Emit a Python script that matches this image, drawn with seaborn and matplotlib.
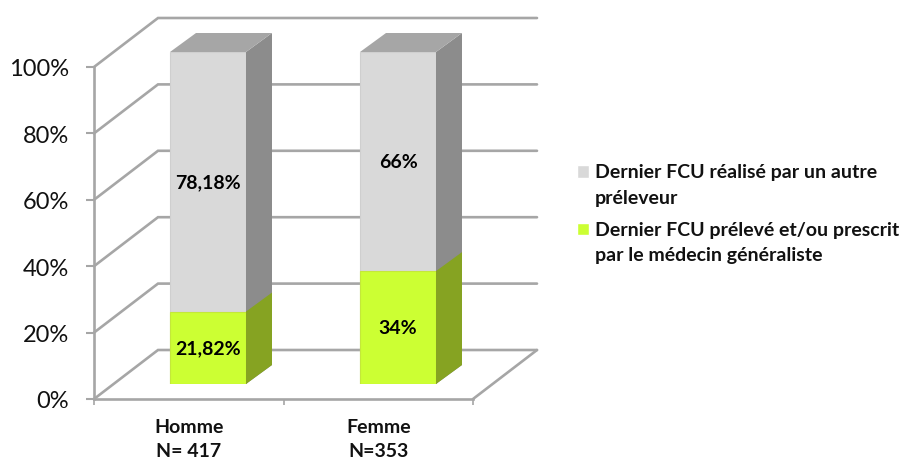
#!/usr/bin/env python3
# -*- coding: utf-8 -*-
"""Dernier FCU selon le sexe : barres empilees avec un decor 3D"""

import matplotlib
matplotlib.use('Agg')
import matplotlib.pyplot as plt
from matplotlib.patches import Patch, Polygon
import seaborn as sns

# donnees
categories = ['Homme\nN= 417', 'Femme\nN=353']
serie_autre = [78.18, 66]
serie_medecin = [21.82, 34]
etiquettes_autre = ['78,18%', '66%']
etiquettes_medecin = ['21,82%', '34%']
noms_series = ['Dernier FCU réalisé par un autre\npréleveur',
               'Dernier FCU prélevé et/ou prescrit\npar le médecin généraliste']
ticks_y = [0, 20, 40, 60, 80, 100]

W, H = 901, 460
GRIS_CADRE = '#a6a6a6'

sns.set_theme(style='white')
plt.rcParams['font.family'] = ['Lato', 'DejaVu Sans']


def px_axes(fig, x0, x1, y_bas, y_haut):
    """Cree un axes a partir de coordonnees en pixels"""
    return fig.add_axes([x0 / W, (H - y_bas) / H, (x1 - x0) / W, (y_bas - y_haut) / H])


fig = plt.figure(figsize=(W / 100, H / 100), dpi=100)

# cadre 3D : plan avant de l'axe
ax = px_axes(fig, 94, 473, 400, 68)
ax.set_xlim(0, 2)
ax.set_ylim(0, 100)
dx = 64 / 379 * 2
dy = 49 / 332 * 100
for t in ticks_y:
    ax.plot([0, dx, 2 + dx], [t, t + dy, t + dy], color=GRIS_CADRE, lw=1.9,
            clip_on=False, solid_joinstyle='miter')
ax.plot([2, 2 + dx], [0, dy], color=GRIS_CADRE, lw=1.9, clip_on=False)

sns.despine(ax=ax, top=True, right=True)
for s in ['left', 'bottom']:
    ax.spines[s].set_color(GRIS_CADRE)
    ax.spines[s].set_linewidth(1.9)
ax.set_yticks(ticks_y)
ax.set_yticklabels([f'{t}%' for t in ticks_y], fontsize=17, color='#111111')
ax.tick_params(axis='y', left=True, length=5.8, width=1.5, color=GRIS_CADRE, pad=12)
ax.set_xticks([0, 1, 2])
ax.set_xticklabels([])
ax.tick_params(axis='x', which='major', bottom=True, length=4.5, width=1.2, color=GRIS_CADRE)
ax.set_xticks([0.5, 1.5], minor=True)
ax.set_xticklabels(categories, minor=True, fontsize=14, fontweight='bold', color='#111111',
                   linespacing=1.53)
ax.tick_params(axis='x', which='minor', bottom=False, length=0, pad=13.5)

# barres sur le plan avance
ax2 = px_axes(fig, 113, 493, 385, 53)
ax2.patch.set_alpha(0)
totaux = [a + m for a, m in zip(serie_autre, serie_medecin)]
sns.barplot(x=categories, y=totaux, color='#d9d9d9', saturation=1, width=0.4, ax=ax2,
            edgecolor='#cfcfcf', linewidth=0.8)
n_gris = len(ax2.patches)
sns.barplot(x=categories, y=serie_medecin, color='#ccff33', saturation=1, width=0.4, ax=ax2,
            edgecolor='#c4e83a', linewidth=0.8)
ax2.set_xlim(-0.5, 1.5)
ax2.set_ylim(0, 100)
ax2.axis('off')

# faces laterales et dessus a partir des barres
prof_x = 26 / 190
prof_y = 19 / 332 * 100
for i, p in enumerate(ax2.patches):
    x1 = p.get_x() + p.get_width()
    h = p.get_height()
    cote = '#8c8c8c' if i < n_gris else '#86a322'
    ax2.add_patch(Polygon([(x1, 0), (x1 + prof_x, prof_y), (x1 + prof_x, h + prof_y), (x1, h)],
                          closed=True, facecolor=cote, edgecolor='none', clip_on=False))
    if i < n_gris:
        x0 = p.get_x()
        ax2.add_patch(Polygon([(x0, h), (x1, h), (x1 + prof_x, h + prof_y), (x0 + prof_x, h + prof_y)],
                              closed=True, facecolor='#a6a6a6', edgecolor='none', clip_on=False))

# valeurs
for i in range(len(categories)):
    ax2.text(i, serie_medecin[i] / 2, etiquettes_medecin[i], ha='center', va='center',
             fontsize=14, fontweight='bold', color='#000000')
    ax2.text(i, serie_medecin[i] + serie_autre[i] / 2, etiquettes_autre[i], ha='center', va='center',
             fontsize=14, fontweight='bold', color='#000000')

# legende
leg = fig.legend(handles=[Patch(facecolor='#d9d9d9', label=noms_series[0]),
                          Patch(facecolor='#ccff33', label=noms_series[1])],
                 loc='upper left', bbox_to_anchor=(577 / W, (H - 164) / H), frameon=False,
                 prop={'size': 14, 'weight': 'bold'}, handlelength=0.61, handleheight=0.61,
                 handletextpad=0.3, labelspacing=0.76, borderpad=0, borderaxespad=0)
for t in leg.get_texts():
    t.set_linespacing(1.63)
    t.set_color('#111111')
for p in leg.get_patches():
    p.set_y(p.get_y() + 9.5)

fig.savefig('out.png', dpi=100)
